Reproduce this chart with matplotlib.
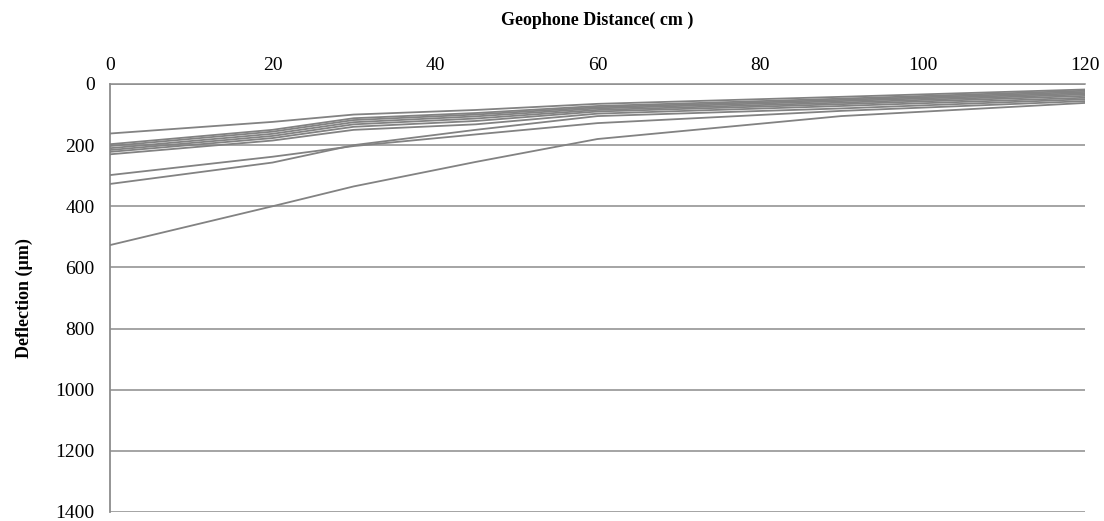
import matplotlib
matplotlib.use("Agg")
import matplotlib.pyplot as plt

distances = [0, 20, 30, 45, 60, 90, 120]

line_01 = [162, 124, 100, 85, 65, 42, 18]
line_02 = [197, 150, 112, 95, 72, 48, 22]
line_03 = [203, 156, 118, 100, 76, 52, 26]
line_04 = [210, 163, 125, 106, 80, 56, 30]
line_05 = [216, 170, 132, 113, 85, 61, 34]
line_06 = [222, 177, 140, 121, 90, 66, 39]
line_07 = [230, 185, 150, 132, 97, 72, 45]
line_08 = [298, 238, 203, 165, 128, 88, 56]
line_09 = [327, 257, 200, 150, 105, 80, 50]
line_10 = [527, 400, 335, 255, 180, 105, 62]

series = [line_01, line_02, line_03, line_04, line_05,
          line_06, line_07, line_08, line_09, line_10]

x_ticks = [0, 20, 40, 60, 80, 100, 120]
y_ticks = [0, 200, 400, 600, 800, 1000, 1200, 1400]

plt.rcParams['font.family'] = ['Liberation Serif', 'DejaVu Serif']

fig = plt.figure(figsize=(11.04, 5.21), dpi=100)
ax = fig.add_axes([0.0996, 0.0173, 0.8832, 0.8215])

for ys in series:
    ax.plot(distances, ys, color='#828282', lw=1.3, solid_joinstyle='round', zorder=3)

ax.set_xlim(0, 120)
ax.set_ylim(1400, 0)
ax.set_xticks(x_ticks)
ax.set_yticks(y_ticks)
ax.xaxis.tick_top()
ax.xaxis.set_label_position('top')
ax.tick_params(axis='both', length=0, labelsize=14, colors='black')
ax.tick_params(axis='x', pad=7)
ax.tick_params(axis='y', pad=11)

ax.grid(axis='y', color='#8c8c8c', lw=1.1, zorder=1)
for s in ['right', 'bottom']:
    ax.spines[s].set_visible(False)
ax.spines['top'].set_color('#8c8c8c')
ax.spines['top'].set_linewidth(1.1)
ax.spines['left'].set_color('#8c8c8c')
ax.spines['left'].set_linewidth(1.3)

ax.set_xlabel('Geophone Distance( cm )', fontsize=13, fontweight='bold', labelpad=23)
ax.set_ylabel('Deflection (\u00b5m)', fontsize=13, fontweight='bold', labelpad=16)

fig.savefig('out.png', dpi=100)
